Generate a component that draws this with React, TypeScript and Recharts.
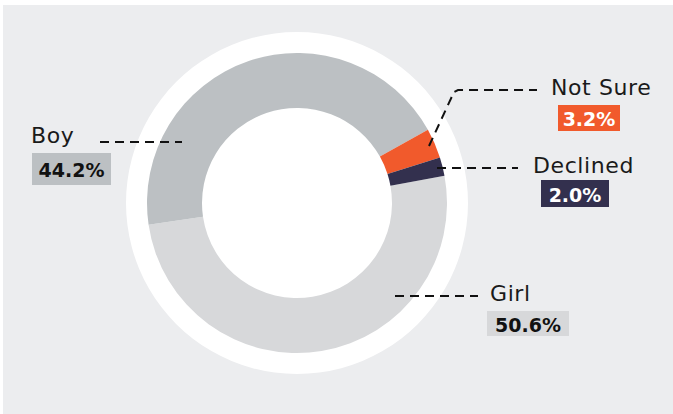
import { PieChart, Pie, Cell } from 'recharts';

// survey answers, clockwise from the right edge
const categories = ['Girl', 'Boy', 'Not Sure', 'Declined'];
const shares = [50.6, 44.2, 3.2, 2.0];
const colors = ['#d7d8da', '#bcc0c3', '#f15a2c', '#33304e'];
const valueTextColors = ['#111111', '#111111', '#ffffff', '#ffffff'];

const data = categories.map((name, i) => ({ name, value: shares[i] }));
const ring = [{ name: 'ring', value: 1 }];

// where each callout sits on the canvas
const LABEL_LAYOUT: Record<string, { line: number[][]; name: number[]; box: number[] }> = {
    Boy: { line: [[100, 142], [182, 142]], name: [31, 143], box: [32, 153, 79, 32] },
    Girl: { line: [[395, 296], [478, 296]], name: [490, 301], box: [487, 311, 82, 25] },
    'Not Sure': { line: [[429, 146], [454, 92], [458, 90], [537, 90]], name: [551, 95], box: [558, 105, 62, 26] },
    Declined: { line: [[437, 168], [518, 168]], name: [533, 173], box: [541, 180, 68, 27] },
};

const FONT = '"DejaVu Sans", sans-serif';

function renderLabel(props: any) {
    const { index } = props;
    const name = categories[index];
    const layout = LABEL_LAYOUT[name];
    if (!layout) return null;
    const [bx, by, bw, bh] = layout.box;
    const points = layout.line.map((p) => p.join(',')).join(' ');
    return (
        <g key={`label-${index}`}>
            <polyline points={points} fill="none" stroke="#111" strokeWidth={2} strokeDasharray="9 6" />
            <text x={layout.name[0]} y={layout.name[1]} fontFamily={FONT} fontSize={22} letterSpacing={0.6} fill="#1a1a1a">
                {name}
            </text>
            <rect x={bx} y={by} width={bw} height={bh} fill={colors[index]} />
            <text
                x={bx + bw / 2}
                y={by + bh / 2 + 1}
                textAnchor="middle"
                dominantBaseline="central"
                fontFamily={FONT}
                fontWeight="bold"
                fontSize={19}
                fill={valueTextColors[index]}
            >
                {`${shares[index].toFixed(1)}%`}
            </text>
        </g>
    );
}

export default function App() {
    return (
        <div style={{ position: 'absolute', left: 0, top: 0, width: 673, height: 414, background: '#ffffff' }}>
            <div style={{ position: 'absolute', left: 3, top: 5, right: 0, bottom: 0, background: '#ecedef' }} />
            <div style={{ position: 'absolute', left: 0, top: 0 }}>
                <PieChart width={673} height={414} margin={{ top: 0, right: 0, bottom: 0, left: 0 }}>
                    <Pie
                        data={ring}
                        dataKey="value"
                        cx={297}
                        cy={203}
                        innerRadius={0}
                        outerRadius={171}
                        fill="#ffffff"
                        stroke="none"
                        isAnimationActive={false}
                    />
                    <Pie
                        data={data}
                        dataKey="value"
                        nameKey="name"
                        cx={297}
                        cy={203}
                        innerRadius={95}
                        outerRadius={150}
                        startAngle={10.5}
                        endAngle={-349.5}
                        stroke="none"
                        label={renderLabel}
                        labelLine={false}
                        isAnimationActive={false}
                    >
                        {data.map((entry, index) => (
                            <Cell key={`cell-${index}`} fill={colors[index]} stroke="none" />
                        ))}
                    </Pie>
                </PieChart>
            </div>
        </div>
    );
}
